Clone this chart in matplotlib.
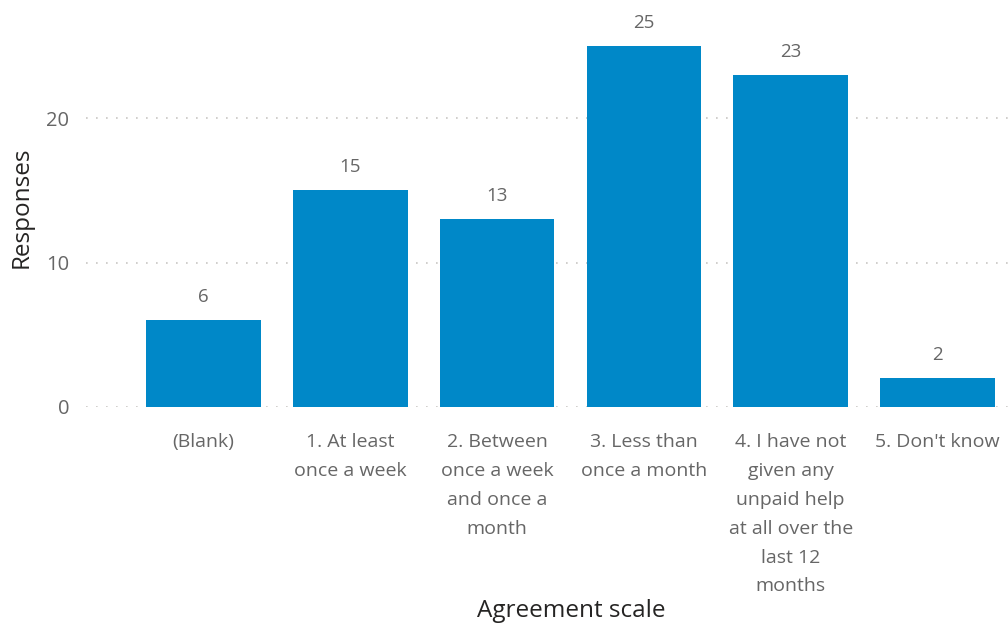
import matplotlib.pyplot as plt

BLUE = "#0088C8"
GRID = "#C8C6C4"
TICK = "#666666"
TITLE = "#252423"

categories = [
    "(Blank)",
    "1. At least\nonce a week",
    "2. Between\nonce a week\nand once a\nmonth",
    "3. Less than\nonce a month",
    "4. I have not\ngiven any\nunpaid help\nat all over the\nlast 12\nmonths",
    "5. Don't know",
]
responses = [6, 15, 13, 25, 23, 2]
yticks = [0, 10, 20]

plt.rcParams["font.family"] = ["Open Sans", "DejaVu Sans"]

fig = plt.figure(figsize=(10.08, 6.24), dpi=100)
ax = fig.add_axes([86 / 1008, 1 - 407 / 624, 1 - 86 / 1008, 407 / 624])

x = list(range(len(categories)))
bars = ax.bar(x, responses, width=0.78, color=BLUE, zorder=3)

for xi, v in zip(x, responses):
    ax.annotate(f"{v}", (xi, v), xytext=(0, 10), textcoords="offset points",
                ha="center", va="bottom", color=TICK, fontsize=13.5)

ax.set_xlim(-0.8, 5.48)
ax.set_ylim(0, 28.17)
ax.set_yticks(yticks)
ax.yaxis.grid(True, linestyle=(0, (1, 5)), color=GRID, linewidth=1.2)
ax.set_axisbelow(True)
ax.tick_params(axis="y", length=0, pad=12, labelcolor=TICK, labelsize=14.5)
ax.set_xticks(x)
ax.set_xticklabels(categories, linespacing=1.77, fontsize=14, color=TICK)
ax.tick_params(axis="x", length=0, pad=19)
for spine in ax.spines.values():
    spine.set_visible(False)

fig.text(22 / 1008, 1 - 207 / 624, "Responses", rotation=90, ha="center",
         va="center", color=TITLE, fontsize=17.5)
fig.text(571 / 1008, 1 - 611 / 624, "Agreement scale", ha="center",
         va="center", color=TITLE, fontsize=17.5)

fig.savefig("out.png", dpi=100, facecolor="white")
